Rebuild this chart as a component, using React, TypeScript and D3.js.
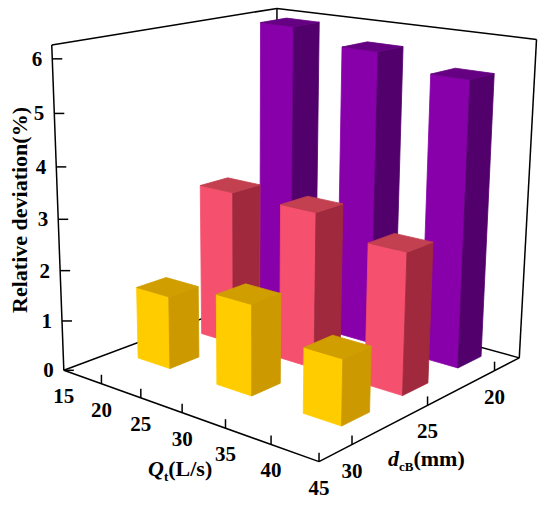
import React from "react";
import * as d3 from "d3";

// Q_t categories of the bars, one series per d_cB row
const qtBars = [20, 30, 40];
const dRows = [30, 25, 20];
const yellowVals = [1.45, 1.77, 1.25]; // dcB = 30 mm
const pinkVals = [3.12, 3.1, 2.75]; // dcB = 25 mm
const purpleVals = [6.15, 5.88, 5.6]; // dcB = 20 mm

// axis ticks
const qtTicks = [15, 20, 25, 30, 35, 40, 45];
const dTicks = [30, 25, 20];
const zTicks = [0, 1, 2, 3, 4, 5, 6];

const W = 550;
const H = 509;

const rowColors = [
  { front: "#ffcc00", side: "#cc9900", top: "#d19e00" },
  { front: "#f5506e", side: "#a1293e", top: "#c2404f" },
  { front: "#8800aa", side: "#52006b", top: "#650082" },
];

// normalised world: u along Qt, v along dcB (front -> back), w up
const qtScale = d3.scaleLinear().domain([15, 45]).range([0, 1]);
const dScale = d3.scaleLinear().domain([32, 18]).range([0, 1]);
const rowScale = d3.scalePoint<number>().domain(dRows).range([0.287, 0.868]);
const zScale = d3.scaleLinear().domain([0, 6.25]).range([0, 1]);

// where the corners of the box sit on the page, used to fit the camera
const anchors: [number[], number[]][] = [
  [[0, 0, 0], [65, 370]],
  [[1, 0, 0], [318, 462.5]],
  [[1, 1, 0], [520, 357]],
  [[0, 1, 0], [274, 292]],
  [[0, 0, 1], [51, 45]],
  [[1, 1, 1], [536, 40]],
  [[0, 1, 1], [278, 8]],
  [[0.5, 0, 0], [182, 412.8]],
  [[0, 0, 0.48], [58.4, 219]],
  [[1, 0.5, 0], [428.3, 404.9]],
];

function fitCamera(pairs: [number[], number[]][]) {
  const rows: number[][] = [];
  const rhs: number[] = [];
  pairs.forEach(([[X, Y, Z], [x, y]]) => {
    rows.push([X, Y, Z, 1, 0, 0, 0, 0, -x * X, -x * Y, -x * Z]);
    rhs.push(x);
    rows.push([0, 0, 0, 0, X, Y, Z, 1, -y * X, -y * Y, -y * Z]);
    rhs.push(y);
  });
  const n = 11;
  // normal equations
  const M = d3.range(n).map((i) => {
    const r = d3.range(n).map((j) => d3.sum(rows, (row) => row[i] * row[j]));
    r.push(d3.sum(rows, (row, k) => row[i] * rhs[k]));
    return r;
  });
  for (let c = 0; c < n; c++) {
    let p = c;
    for (let r = c + 1; r < n; r++) if (Math.abs(M[r][c]) > Math.abs(M[p][c])) p = r;
    [M[c], M[p]] = [M[p], M[c]];
    for (let r = 0; r < n; r++) {
      if (r === c) continue;
      const f = M[r][c] / M[c][c];
      for (let k = c; k <= n; k++) M[r][k] -= f * M[c][k];
    }
  }
  return M.map((r, i) => r[n] / r[i]);
}

const m = fitCamera(anchors);

function project(u: number, v: number, w: number): [number, number] {
  const d = m[8] * u + m[9] * v + m[10] * w + 1;
  return [
    (m[0] * u + m[1] * v + m[2] * w + m[3]) / d,
    (m[4] * u + m[5] * v + m[6] * w + m[7]) / d,
  ];
}

const line = d3.line();
const poly = (pts: number[][]) =>
  line(pts.map(([u, v, w]) => project(u, v, w)))! + "Z";

const halfW = 0.069;
const halfD = 0.065;

export default function App() {
  const series = [yellowVals, pinkVals, purpleVals];
  const bars = dRows
    .flatMap((d, r) =>
      qtBars.map((q, c) => ({ r, c, d, q, val: series[r][c] }))
    )
    // paint from the back row to the front
    .sort((a, b) => b.r - a.r || a.c - b.c);

  const seg = (a: number[], b: number[], key: string) => {
    const [x1, y1] = project(a[0], a[1], a[2]);
    const [x2, y2] = project(b[0], b[1], b[2]);
    return (
      <line key={key} x1={x1} y1={y1} x2={x2} y2={y2} stroke="#000" strokeWidth={1.5} />
    );
  };

  const font = "'Liberation Serif', 'Times New Roman', serif";

  return (
    <svg width={W} height={H} style={{ position: "absolute", left: 0, top: 0, background: "#fff" }}>
      {/* back frame */}
      {seg([0, 0, 0], [0, 1, 0], "fl")}
      {seg([0, 1, 0], [1, 1, 0], "fb")}
      {seg([0, 1, 0], [0, 1, 1], "bv")}
      {seg([0, 0, 1], [0, 1, 1], "tl")}
      {seg([0, 1, 1], [1, 1, 1], "tr")}
      {seg([1, 1, 0], [1, 1, 1], "rv")}
      {seg([0, 0, 0], [0, 0, 1], "lv")}

      {/* bars */}
      {bars.map((b) => {
        const u0 = qtScale(b.q) - halfW;
        const u1 = qtScale(b.q) + halfW;
        const v0 = rowScale(b.d)! - halfD;
        const v1 = rowScale(b.d)! + halfD;
        const h = zScale(b.val);
        const col = rowColors[b.r];
        const face = (pts: number[][], c: string) => (
          <path d={poly(pts)} fill={c} stroke={c} strokeWidth={0.8} strokeLinejoin="round" />
        );
        return (
          <g key={`${b.r}-${b.c}`}>
            {face([[u0, v0, 0], [u1, v0, 0], [u1, v0, h], [u0, v0, h]], col.front)}
            {face([[u1, v0, 0], [u1, v1, 0], [u1, v1, h], [u1, v0, h]], col.side)}
            {face([[u0, v0, h], [u1, v0, h], [u1, v1, h], [u0, v1, h]], col.top)}
          </g>
        );
      })}

      {/* front axes */}
      {seg([0, 0, 0], [1, 0, 0], "ax-qt")}
      {seg([1, 0, 0], [1, 1, 0], "ax-d")}

      {/* z ticks */}
      {zTicks.map((z) => {
        const [x, y] = project(0, 0, zScale(z));
        return (
          <g key={`z${z}`}>
            <line x1={x} y1={y} x2={x + 10} y2={y} stroke="#000" strokeWidth={1.5} />
            <text x={x - 10} y={y} textAnchor="end" dominantBaseline="central"
              fontFamily={font} fontWeight="bold" fontSize={21}>{z}</text>
          </g>
        );
      })}

      {/* Qt ticks */}
      {qtTicks.map((q) => {
        const [x, y] = project(qtScale(q), 0, 0);
        return (
          <g key={`q${q}`}>
            {q > 15 && <line x1={x} y1={y} x2={x} y2={y - 9} stroke="#000" strokeWidth={1.5} />}
            <text x={x} y={y + 26} textAnchor="middle" dominantBaseline="central"
              fontFamily={font} fontWeight="bold" fontSize={21}>{q}</text>
          </g>
        );
      })}

      {/* dcB ticks */}
      {dTicks.map((d) => {
        const [x, y] = project(1, dScale(d), 0);
        return (
          <g key={`d${d}`}>
            <line x1={x} y1={y} x2={x} y2={y - 9} stroke="#000" strokeWidth={1.5} />
            <text x={x} y={y + 26} textAnchor="middle" dominantBaseline="central"
              fontFamily={font} fontWeight="bold" fontSize={21}>{d}</text>
          </g>
        );
      })}

      {/* axis titles */}
      <text x={148} y={476} fontFamily={font} fontWeight="bold" fontSize={22}>
        <tspan fontStyle="italic">Q</tspan>
        <tspan fontSize={13} dy={5}>t</tspan>
        <tspan dy={-5}>(L/s)</tspan>
      </text>
      <text x={388} y={466} fontFamily={font} fontWeight="bold" fontSize={22}>
        <tspan fontStyle="italic">d</tspan>
        <tspan fontSize={13} dy={5}>cB</tspan>
        <tspan dy={-5}>(mm)</tspan>
      </text>
      <text transform="translate(27,210) rotate(-90)" textAnchor="middle"
        fontFamily={font} fontWeight="bold" fontSize={22}>Relative deviation(%)</text>
    </svg>
  );
}
